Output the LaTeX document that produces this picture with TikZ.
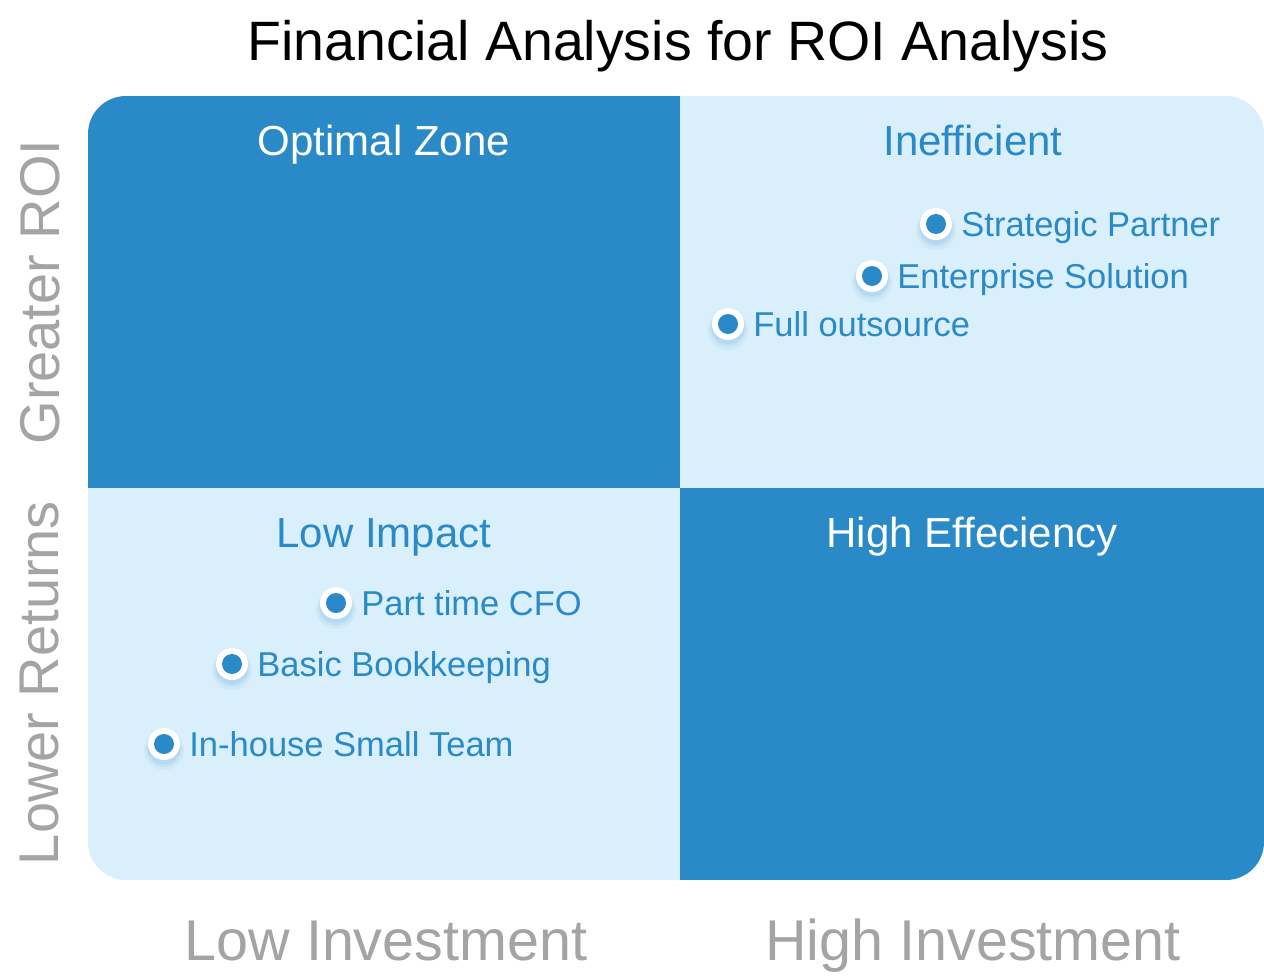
\documentclass[tikz,border=0pt]{standalone}
\usepackage{fontspec}
\setmainfont{Liberation Sans}
\definecolor{dblue}{HTML}{2A8AC8}
\definecolor{lblue}{HTML}{D9EFFC}
\definecolor{axgray}{HTML}{A4A4A4}
\tikzset{
  qtitle/.style={font=\fontsize{42}{42}\selectfont, anchor=base, inner sep=0pt},
  axlab/.style={font=\fontsize{56}{56}\selectfont, text=axgray, anchor=center},
  xlab/.style={font=\fontsize{57.5}{57.5}\selectfont, text=axgray, anchor=base, inner sep=0pt},
  ptlab/.style={font=\fontsize{34.5}{34.5}\selectfont, text=dblue, anchor=base west, inner sep=0pt},
  marker/.style={circle, fill=white, minimum size=32pt, inner sep=0pt},
}
\newcommand{\pmark}[3]{%
  \fill[dblue, opacity=0.05] (#2,#3+6) circle (20);
  \fill[dblue, opacity=0.07] (#2,#3+5) circle (18);
  \fill[dblue, opacity=0.10] (#2,#3+4) circle (16.5);
  \node[marker] (#1) at (#2,#3) {};
  \fill[dblue] (#1.center) circle (10);
}
\begin{document}
\begin{tikzpicture}[x=1pt,y=-1pt]
\useasboundingbox (0,0) rectangle (1264,980);
\fill[white] (0,0) rectangle (1264,980);
% quadrants
\begin{scope}
\clip[rounded corners=38] (88,96) rectangle (1264,880);
\fill[dblue] (88,96) rectangle (680,488);
\fill[lblue] (680,96) rectangle (1264,488);
\fill[lblue] (88,488) rectangle (680,880);
\fill[dblue] (680,488) rectangle (1264,880);
\end{scope}
% title
\node[font=\fontsize{55.5}{55.5}\selectfont, anchor=base, inner sep=0pt] (title) at (678,60) {Financial Analysis for ROI Analysis};
% quadrant titles
\node[qtitle, text=white] (q1) at (384,155) {Optimal Zone};
\node[qtitle, text=dblue] (q2) at (973,155) {Inefficient};
\node[qtitle, text=dblue] (q3) at (384,547) {Low Impact};
\node[qtitle, text=white] (q4) at (972,547) {High Effeciency};
% axis labels
\node[axlab, rotate=90] (yhi) at (40,292) {Greater ROI};
\node[axlab, rotate=90] (ylo) at (40,683) {Lower Returns};
\node[xlab] (xlo) at (386,960) {Low Investment};
\node[xlab] (xhi) at (973,960) {High Investment};
% points
\pmark{p1}{936}{224}
\pmark{p2}{872}{276}
\pmark{p3}{728}{324}
\pmark{p4}{336}{603}
\pmark{p5}{232}{664}
\pmark{p6}{164}{744}
\node[ptlab] (l1) at ([xshift=9pt,yshift=-12pt]p1.east) {Strategic Partner};
\node[ptlab] (l2) at ([xshift=9pt,yshift=-12pt]p2.east) {Enterprise Solution};
\node[ptlab] (l3) at ([xshift=9pt,yshift=-12pt]p3.east) {Full outsource};
\node[ptlab] (l4) at ([xshift=9pt,yshift=-12pt]p4.east) {Part time CFO};
\node[ptlab] (l5) at ([xshift=9pt,yshift=-12pt]p5.east) {Basic Bookkeeping};
\node[ptlab] (l6) at ([xshift=9pt,yshift=-12pt]p6.east) {In-house Small Team};
\end{tikzpicture}
\end{document}
